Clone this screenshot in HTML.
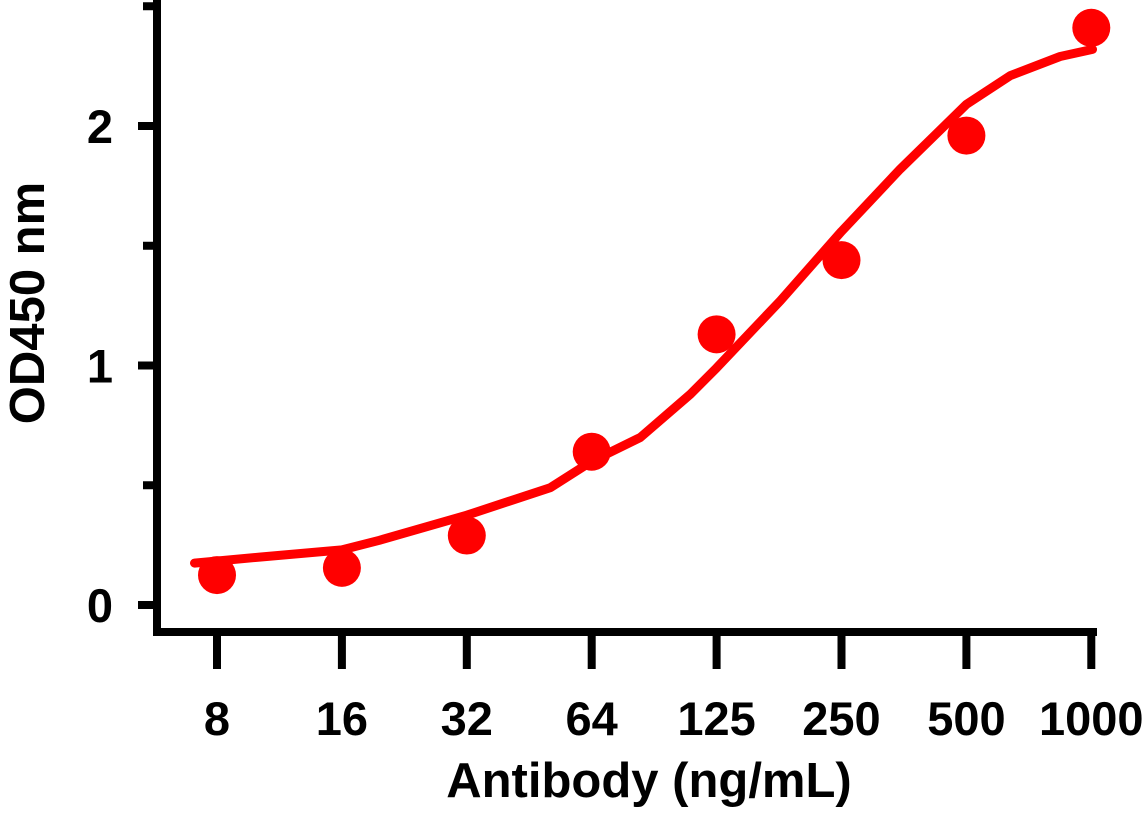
<!DOCTYPE html>
<html><head><meta charset="utf-8"><style>
html,body{margin:0;padding:0;background:#fff;}
svg{display:block;font-family:"Liberation Sans",Arial,sans-serif;font-weight:bold;}
</style></head><body>
<svg id="chart" width="1148" height="815" viewBox="0 0 1148 815" xmlns="http://www.w3.org/2000/svg">
<g id="axes"></g>
<g id="curve-layer"></g>
<g id="points-layer"></g>
<text x="649" y="797" font-size="49" text-anchor="middle">Antibody (ng/mL)</text>
<text transform="translate(44,303) rotate(-90)" font-size="49" text-anchor="middle">OD450 nm</text>
</svg>
<script>
const categories = ["8","16","32","64","125","250","500","1000"];
const odValues = [0.125,0.155,0.29,0.64,1.13,1.44,1.96,2.41];
const curveIndex = [-0.18,0.34,1,1.3,2,2.67,3,3.39,3.79,4,4.51,5,5.47,6,6.35,6.75,7.01];
const curveValues = [0.175,0.2,0.23,0.27,0.375,0.49,0.6,0.7,0.88,0.99,1.27,1.56,1.82,2.09,2.21,2.29,2.32];
const yTicks = [0,1,2];
const yMinorTicks = [0.5,1.5,2.5];

const NS="http://www.w3.org/2000/svg";
function xs(i){return 217+i*124.9;}
function ys(v){return 605-v*239.5;}
function mk(tag,attrs,parent){const e=document.createElementNS(NS,tag);for(const k in attrs)e.setAttribute(k,attrs[k]);parent.appendChild(e);return e;}
const axes=document.getElementById('axes');
let l=mk('line',{x1:157,y1:0,x2:157,y2:636,stroke:'#000','stroke-width':8},axes);


l=mk('line',{x1:153,y1:632,x2:1097,y2:632,stroke:'#000','stroke-width':8},axes);


yTicks.forEach(v=>{
  const t=mk('line',{x1:138,y1:ys(v),x2:157,y2:ys(v),stroke:'#000','stroke-width':8},axes);
  
  
  const tx=mk('text',{x:113,y:ys(v)+17,'font-size':47,'text-anchor':'end'},axes);
  tx.textContent=String(v);
  
  
});
yMinorTicks.forEach(v=>{
  const t=mk('line',{x1:143,y1:ys(v),x2:157,y2:ys(v),stroke:'#000','stroke-width':8},axes);
  
  
});
categories.forEach((c,i)=>{
  const t=mk('line',{x1:xs(i),y1:632,x2:xs(i),y2:669,stroke:'#000','stroke-width':8},axes);
  
  
  const tx=mk('text',{x:xs(i),y:735,'font-size':47,'text-anchor':'middle'},axes);
  tx.textContent=c;
  
  
});
const cl=document.getElementById('curve-layer');
const pts=curveIndex.map((x,i)=>xs(x).toFixed(1)+','+ys(curveValues[i]).toFixed(1)).join(' ');
const pl=mk('polyline',{points:pts,fill:'none',stroke:'#ff0000','stroke-width':9,'stroke-linejoin':'round','stroke-linecap':'round'},cl);


const pLayer=document.getElementById('points-layer');
odValues.forEach((v,i)=>{
  const c=mk('circle',{cx:xs(i),cy:ys(v),r:19,fill:'#ff0000'},pLayer);
  
  
});
</script>
</body></html>
